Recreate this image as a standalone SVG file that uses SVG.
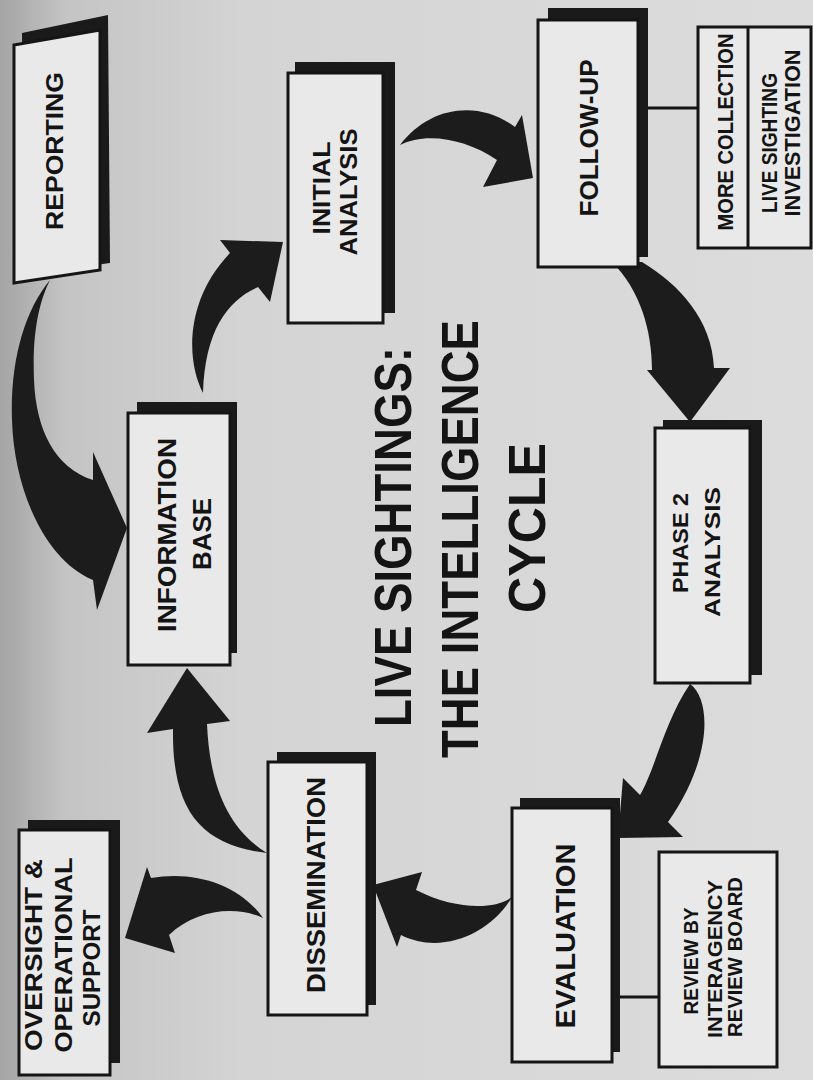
<svg xmlns="http://www.w3.org/2000/svg" width="813" height="1080" viewBox="0 0 813 1080">
  <defs>
    <linearGradient id="paper" x1="0" y1="0" x2="1" y2="0">
      <stop offset="0" stop-color="#a4a4a4"/>
      <stop offset="0.08" stop-color="#c4c4c4"/>
      <stop offset="0.3" stop-color="#d4d4d4"/>
      <stop offset="1" stop-color="#dcdcdc"/>
    </linearGradient>
    <style>
      .box { fill: #e9e9e9; stroke: #151515; stroke-width: 3; }
      .shadow { fill: #1a1a1a; }
      .arrow { fill: #1c1c1c; }
      .link { stroke: #151515; stroke-width: 3; fill: none; }
      .lbl { font-family: "Liberation Sans", Arial, sans-serif; font-weight: bold; fill: #141414; text-anchor: middle; }
      .title { font-family: "Liberation Sans", Arial, sans-serif; font-weight: bold; fill: #141414; text-anchor: middle; font-size: 52px; }
    </style>
  </defs>

  <rect x="0" y="0" width="813" height="1080" fill="url(#paper)"/>

  <g id="connectors">
    <!-- Reporting -> Information Base -->
    <path class="arrow" d="M50,280 C25,310 10,360 12,420 C14,490 45,560 93,580 L97,610 L127,528 L93,452 L93,480 C55,468 36,430 34,380 C32,330 40,300 50,280 Z"/>
    <!-- Information Base -> Initial Analysis -->
    <path class="arrow" d="M203,393 C186,360 185,300 230,253 L220,240 L283,242 L270,302 L258,287 C228,300 205,330 203,393 Z"/>
    <!-- Initial Analysis -> Follow-up -->
    <path class="arrow" d="M400,145 C430,105 480,100 515,127 L522,115 L533,178 L483,187 L497,160 C465,138 425,132 400,145 Z"/>
    <!-- Follow-up -> Phase 2 -->
    <path class="arrow" d="M612,262 C640,290 652,330 652,370 L647,370 L690,422 L730,368 L714,368 C712,320 680,285 642,262 Z"/>
    <!-- Phase 2 -> Evaluation -->
    <path class="arrow" d="M690,684 C712,700 712,760 668,822 L683,837 L618,838 L623,778 L640,795 C655,770 665,720 690,684 Z"/>
    <!-- Evaluation -> Dissemination -->
    <path class="arrow" d="M512,897 C495,910 455,910 416,890 L422,872 L373,885 L397,947 L401,935 C440,955 490,935 512,897 Z"/>
    <!-- Dissemination -> Information Base -->
    <path class="arrow" d="M267,853 C200,845 172,810 173,729 L147,733 L187,668 L230,721 L207,724 C210,790 230,830 267,853 Z"/>
    <!-- Dissemination -> Oversight -->
    <path class="arrow" d="M263,918 C240,885 195,870 151,878 L147,867 L125,938 L175,953 L169,935 C195,910 235,905 263,918 Z"/>
    <!-- plain links -->
    <line class="link" x1="648" y1="108" x2="698" y2="108"/>
    <line class="link" x1="620" y1="997" x2="659" y2="997"/>
  </g>

  <g id="title">
    <text class="title" transform="translate(411,537) rotate(-90)" textLength="380" lengthAdjust="spacingAndGlyphs">LIVE SIGHTINGS:</text>
    <text class="title" transform="translate(478,539) rotate(-90)" textLength="438" lengthAdjust="spacingAndGlyphs">THE INTELLIGENCE</text>
    <text class="title" transform="translate(545,528) rotate(-90)" textLength="170" lengthAdjust="spacingAndGlyphs">CYCLE</text>
  </g>

  <g id="reporting">
    <polygon class="shadow" points="22,33 108,15 110,263 24,275"/>
    <polygon class="box" points="14,45 100,30 100,270 14,283"/>
    <text class="lbl" font-size="24" transform="translate(63,151) rotate(-90)" textLength="158" lengthAdjust="spacingAndGlyphs">REPORTING</text>
  </g>

  <g id="initial-analysis">
    <rect class="shadow" x="295" y="62" width="100" height="251"/>
    <rect class="box" x="288" y="73" width="95" height="250"/>
    <text class="lbl" font-size="23" transform="translate(330,188) rotate(-90)" textLength="93" lengthAdjust="spacingAndGlyphs">INITIAL</text>
    <text class="lbl" font-size="23" transform="translate(357,192) rotate(-90)" textLength="127" lengthAdjust="spacingAndGlyphs">ANALYSIS</text>
  </g>

  <g id="follow-up">
    <rect class="shadow" x="548" y="8" width="100" height="249"/>
    <rect class="box" x="538" y="20" width="100" height="247"/>
    <text class="lbl" font-size="25" transform="translate(598,138) rotate(-90)" textLength="157" lengthAdjust="spacingAndGlyphs">FOLLOW-UP</text>
  </g>

  <g id="more-collection">
    <rect class="box" x="698" y="27" width="113" height="221"/>
    <line class="link" x1="748" y1="27" x2="748" y2="248"/>
    <text class="lbl" font-size="22" transform="translate(733,132) rotate(-90)" textLength="197" lengthAdjust="spacingAndGlyphs">MORE COLLECTION</text>
    <text class="lbl" font-size="22" transform="translate(777,143) rotate(-90)" textLength="140" lengthAdjust="spacingAndGlyphs">LIVE SIGHTING</text>
    <text class="lbl" font-size="22" transform="translate(800,133) rotate(-90)" textLength="167" lengthAdjust="spacingAndGlyphs">INVESTIGATION</text>
  </g>

  <g id="information-base">
    <rect class="shadow" x="137" y="402" width="100" height="251"/>
    <rect class="box" x="128" y="413" width="102" height="252"/>
    <text class="lbl" font-size="25" transform="translate(176,535) rotate(-90)" textLength="194" lengthAdjust="spacingAndGlyphs">INFORMATION</text>
    <text class="lbl" font-size="25" transform="translate(211,534) rotate(-90)" textLength="72" lengthAdjust="spacingAndGlyphs">BASE</text>
  </g>

  <g id="phase-2-analysis">
    <rect class="shadow" x="663" y="420" width="99" height="255"/>
    <rect class="box" x="655" y="428" width="95" height="255"/>
    <text class="lbl" font-size="22" transform="translate(688,543) rotate(-90)" textLength="100" lengthAdjust="spacingAndGlyphs">PHASE 2</text>
    <text class="lbl" font-size="22" transform="translate(720,552) rotate(-90)" textLength="130" lengthAdjust="spacingAndGlyphs">ANALYSIS</text>
  </g>

  <g id="evaluation">
    <rect class="shadow" x="520" y="798" width="100" height="254"/>
    <rect class="box" x="512" y="808" width="100" height="254"/>
    <text class="lbl" font-size="27" transform="translate(575,936) rotate(-90)" textLength="185" lengthAdjust="spacingAndGlyphs">EVALUATION</text>
  </g>

  <g id="review-board">
    <rect class="box" x="659" y="852" width="118" height="215"/>
    <text class="lbl" font-size="21" transform="translate(698,961) rotate(-90)" textLength="107" lengthAdjust="spacingAndGlyphs">REVIEW  BY</text>
    <text class="lbl" font-size="21" transform="translate(722,959) rotate(-90)" textLength="158" lengthAdjust="spacingAndGlyphs">INTERAGENCY</text>
    <text class="lbl" font-size="21" transform="translate(742,957) rotate(-90)" textLength="160" lengthAdjust="spacingAndGlyphs">REVIEW BOARD</text>
  </g>

  <g id="dissemination">
    <rect class="shadow" x="277" y="752" width="99" height="253"/>
    <rect class="box" x="268" y="762" width="99" height="253"/>
    <text class="lbl" font-size="25" transform="translate(325,885) rotate(-90)" textLength="216" lengthAdjust="spacingAndGlyphs">DISSEMINATION</text>
  </g>

  <g id="oversight">
    <rect class="shadow" x="28" y="820" width="92" height="243"/>
    <rect class="box" x="19" y="830" width="91" height="245"/>
    <text class="lbl" font-size="24" transform="translate(42,955) rotate(-90)" textLength="192" lengthAdjust="spacingAndGlyphs">OVERSIGHT &amp;</text>
    <text class="lbl" font-size="24" transform="translate(72,955) rotate(-90)" textLength="195" lengthAdjust="spacingAndGlyphs">OPERATIONAL</text>
    <text class="lbl" font-size="24" transform="translate(100,968) rotate(-90)" textLength="117" lengthAdjust="spacingAndGlyphs">SUPPORT</text>
  </g>
</svg>
